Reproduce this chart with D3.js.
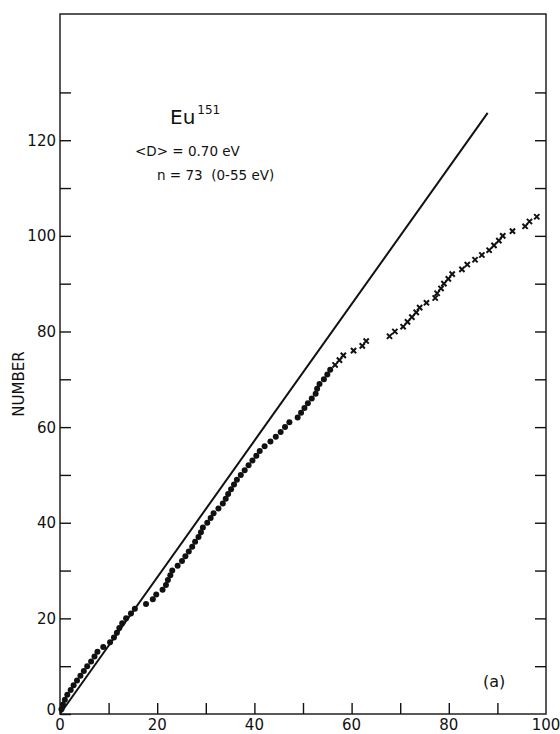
<!DOCTYPE html>
<html>
<head>
<meta charset="utf-8">
<script src="https://cdn.jsdelivr.net/npm/d3@7"></script>
<style>
  html, body { margin: 0; padding: 0; background: #fff; }
  svg { display: block; font-family: "DejaVu Sans", sans-serif; }
</style>
</head>
<body>
<div id="chart"></div>
<script>
// resonance energies (eV), one per level, cumulative count is the index
const dotEnergies = [
  0.3, 0.6, 1.0, 1.5, 2.2, 2.8, 3.5, 4.2, 4.9, 5.6,
  6.4, 7.1, 7.7, 8.9, 10.3, 11.1, 11.7, 12.2, 12.8, 13.6,
  14.6, 15.4, 17.7, 19.1, 19.8, 21.1, 21.8, 22.2, 22.7, 23.1,
  24.2, 25.1, 25.8, 26.5, 27.2, 27.8, 28.5, 29.0, 29.4, 30.3,
  31.0, 31.6, 32.6, 33.5, 34.1, 34.6, 35.2, 35.8, 36.4, 37.2,
  38.0, 38.8, 39.6, 40.4, 41.1, 42.1, 43.3, 44.4, 45.4, 46.3,
  47.2, 48.9, 49.6, 50.3, 51.0, 51.8, 52.6, 52.9, 53.4, 54.3,
  55.0, 55.6
];
const crossEnergies = [
  56.6, 57.5, 58.3, 60.4, 62.2, 63.0, 67.8, 68.9, 70.6, 71.5,
  72.4, 73.3, 74.0, 75.4, 77.2, 77.6, 78.4, 79.0, 79.9, 80.7,
  82.7, 83.8, 85.4, 86.8, 88.3, 89.3, 90.3, 91.1, 93.1, 95.7,
  96.6, 98.1
];
const meanSpacing = 0.70;          // <D>
const lineEnd = [0, 88];            // energy range of the straight line
const xTicks = [0, 10, 20, 30, 40, 50, 60, 70, 80, 90, 100];
const xTickLabels = [0, 20, 40, 60, 80, 100];
const yTicks = [0, 10, 20, 30, 40, 50, 60, 70, 80, 90, 100, 110, 120, 130];
const yTickLabels = [0, 20, 40, 60, 80, 100, 120];

const width = 560;
const height = 734;

const svg = d3.select("#chart")
  .append("svg")
  .attr("width", width)
  .attr("height", height);

const x = d3.scaleLinear().domain([0, 100]).range([60, 546]);
const y = d3.scaleLinear().domain([0, 146.4]).range([714, 14]);

const ink = "#111";
const tickLen = 11;

// frame
svg.append("rect")
  .attr("x", x(0))
  .attr("y", y(146.4))
  .attr("width", x(100) - x(0))
  .attr("height", y(0) - y(146.4))
  .attr("fill", "none")
  .attr("stroke", "#222")
  .attr("stroke-width", 1.5);

// inward ticks on left, right, bottom
const leftAxis = d3.axisRight(y).tickValues(yTicks).tickSize(tickLen).tickFormat("");
svg.append("g").attr("transform", `translate(${x(0)},0)`).call(leftAxis);

const rightAxis = d3.axisLeft(y).tickValues(yTicks.filter((v) => v > 0)).tickSize(tickLen).tickFormat("");
svg.append("g").attr("transform", `translate(${x(100)},0)`).call(rightAxis);

const bottomAxis = d3.axisTop(x).tickValues(xTicks.filter((v) => v > 0 && v < 100)).tickSize(tickLen).tickFormat("");
svg.append("g").attr("transform", `translate(0,${y(0)})`).call(bottomAxis);

svg.selectAll(".domain").remove();
svg.selectAll(".tick line").attr("stroke", ink).attr("stroke-width", 1.4);

// tick labels
svg.append("g")
  .selectAll("text")
  .data(yTickLabels)
  .enter()
  .append("text")
  .attr("x", x(0) - 4)
  .attr("y", (d) => y(d) - (d === 0 ? 4 : 0))
  .attr("dy", "0.36em")
  .attr("text-anchor", "end")
  .style("font-size", "15px")
  .attr("fill", ink)
  .text((d) => d);

svg.append("g")
  .selectAll("text")
  .data(xTickLabels)
  .enter()
  .append("text")
  .attr("x", (d) => x(d))
  .attr("y", 730)
  .attr("text-anchor", "middle")
  .style("font-size", "15px")
  .attr("fill", ink)
  .text((d) => d);

svg.append("text")
  .attr("transform", `translate(24,${384}) rotate(-90)`)
  .attr("text-anchor", "middle")
  .style("font-size", "15px")
  .attr("fill", ink)
  .text("NUMBER");

// straight line, slope 1/<D>
const line = d3.line()
  .x((d) => x(d))
  .y((d) => y(d / meanSpacing));

svg.append("path")
  .datum(lineEnd)
  .attr("d", line)
  .attr("fill", "none")
  .attr("stroke", ink)
  .attr("stroke-width", 2);

// dots, 0-55 eV
svg.append("g")
  .selectAll("circle")
  .data(dotEnergies)
  .enter()
  .append("circle")
  .attr("cx", (d) => x(d))
  .attr("cy", (d, i) => y(i + 1))
  .attr("r", 3)
  .attr("fill", ink);

// crosses above 55 eV
const s = 2.6;
svg.append("g")
  .selectAll("path")
  .data(crossEnergies)
  .enter()
  .append("path")
  .attr("transform", (d, i) => `translate(${x(d)},${y(dotEnergies.length + i + 1)})`)
  .attr("d", `M${-s},${-s}L${s},${s}M${-s},${s}L${s},${-s}`)
  .attr("stroke", ink)
  .attr("stroke-width", 2);

// annotation
const eu = svg.append("text")
  .attr("x", 170)
  .attr("y", 124)
  .style("font-size", "20px")
  .attr("fill", ink);
eu.append("tspan").text("Eu");
eu.append("tspan").attr("dy", -10).style("font-size", "12px").attr("dx", 2).text("151");

svg.append("text")
  .attr("x", 135)
  .attr("y", 156)
  .style("font-size", "13.5px")
  .attr("fill", ink)
  .text("<D> = 0.70 eV");

svg.append("text")
  .attr("x", 157)
  .attr("y", 180)
  .attr("xml:space", "preserve")
  .style("white-space", "pre")
  .style("font-size", "13.5px")
  .attr("fill", ink)
  .text("n = 73  (0-55 eV)");

svg.append("text")
  .attr("x", 483)
  .attr("y", 687)
  .style("font-size", "16px")
  .attr("fill", ink)
  .text("(a)");
</script>
</body>
</html>
